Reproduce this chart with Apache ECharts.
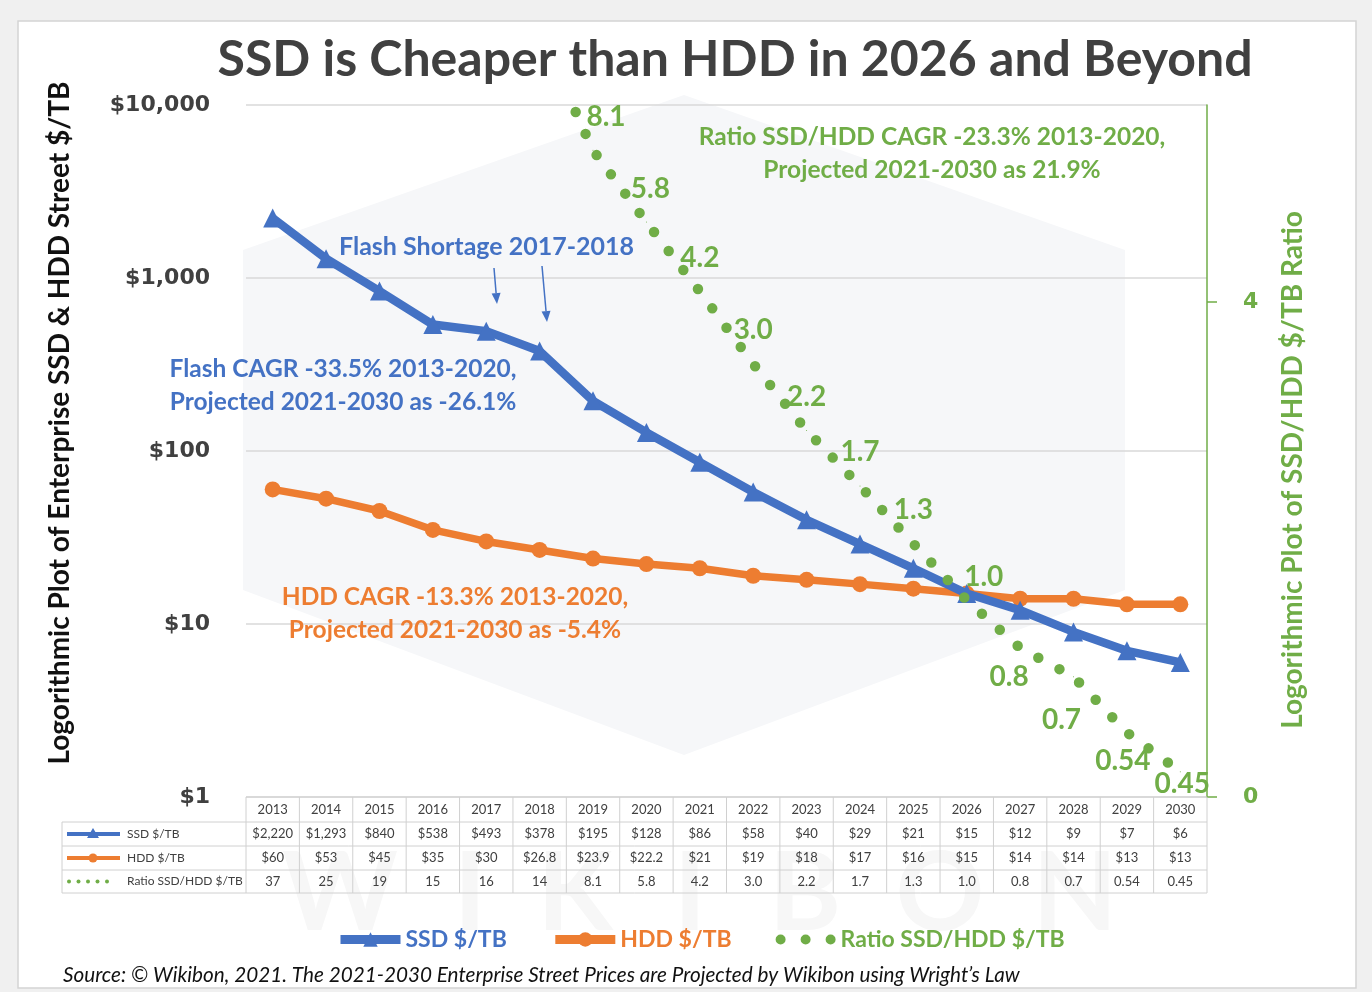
<!DOCTYPE html>
<html>
<head>
<meta charset="utf-8">
<script src="https://cdn.jsdelivr.net/npm/echarts@6/dist/echarts.min.js"></script>
<style>
  html, body { margin: 0; padding: 0; background: #f0f0f0; }
  #chart { width: 1372px; height: 992px; }
</style>
</head>
<body>
<div id="chart"></div>
<script>
// Enterprise street prices, $/TB (2021-2030 projected)
const years = ['2013','2014','2015','2016','2017','2018','2019','2020','2021','2022','2023','2024','2025','2026','2027','2028','2029','2030'];
const ssdPrice = [2220, 1293, 840, 538, 493, 378, 195, 128, 86, 58, 40, 29, 21, 15, 12, 9, 7, 6];
const hddPrice = [60, 53, 45, 35, 30, 26.8, 23.9, 22.2, 21, 19, 18, 17, 16, 15, 14, 14, 13, 13];
const ratio = [37, 25, 19, 15, 16, 14, 8.1, 5.8, 4.2, 3.0, 2.2, 1.7, 1.3, 1.0, 0.8, 0.7, 0.54, 0.45];

// Axis tick values
const priceTicks = [1, 10, 100, 1000, 10000];
const ratioTicks = [0.4, 4];

// Series names
const SSD = 'SSD $/TB', HDD = 'HDD $/TB', RATIO = 'Ratio SSD/HDD $/TB';

const BLUE = '#4472C4', ORANGE = '#ED7D31', GREEN = '#70AD47', INK = '#404040';
const FONT = 'Lato, "Open Sans", sans-serif';

// nudges for ratio data labels (pixels)
const ratioLabelNudge = { '2019': [13, 0], '2020': [4, 0], '2026': [17, 10], '2027': [-11, 0], '2028': [-12, 15], '2029': [-4, 0], '2030': [2, -16] };

function fmtRatio(v) {
  if (v >= 10) return String(v);
  const s = String(v);
  return s.indexOf('.') < 0 ? v.toFixed(1) : s;
}
function fmtPrice(v) { return '$' + v.toLocaleString('en-US'); }

const chart = echarts.init(document.getElementById('chart'), null, { renderer: 'canvas' });

const ratioData = ratio.map((v, i) => {
  const below = v < 1;
  return {
    value: v,
    label: {
      show: v <= 10,
      position: below ? 'bottom' : 'top',
      distance: below ? 14 : 19,
      offset: ratioLabelNudge[years[i]] || [0, 0]
    }
  };
});

const dotsIcon = 'path://M0,5a5,5 0 1,0 10,0a5,5 0 1,0 -10,0M25,5a5,5 0 1,0 10,0a5,5 0 1,0 -10,0M50,5a5,5 0 1,0 10,0a5,5 0 1,0 -10,0';

const option = {
  backgroundColor: '#f0f0f0',
  animation: false,
  grid: { left: 246, right: 165, top: 105, bottom: 195, containLabel: false },
  legend: {
    left: 331, top: 923,
    itemWidth: 60, itemHeight: 18, itemGap: 44,
    lineStyle: { width: 9 },
    textStyle: { fontFamily: FONT, fontWeight: 'bold', fontSize: 23 },
    data: [
      { name: SSD, textStyle: { color: BLUE } },
      { name: HDD, textStyle: { color: ORANGE } },
      { name: RATIO, icon: dotsIcon, textStyle: { color: GREEN } }
    ]
  },
  xAxis: {
    type: 'category', data: years, boundaryGap: true,
    axisLine: { show: false }, axisTick: { show: false }, axisLabel: { show: false }
  },
  yAxis: [
    {
      type: 'log', logBase: 10, min: 1, max: 10000,
      axisLine: { show: false }, axisTick: { show: false },
      splitLine: { show: true, lineStyle: { color: '#d9d9d9', width: 1.5 } },
      axisLabel: {
        customValues: priceTicks,
        formatter: fmtPrice, margin: 36,
        fontFamily: '"DejaVu Sans", sans-serif', fontWeight: 'bold', fontSize: 22, color: INK
      }
    },
    {
      type: 'log', logBase: 10, min: 0.4, max: 10, position: 'right',
      axisLine: { show: true, lineStyle: { color: GREEN, width: 1.5 } },
      axisTick: { show: true, customValues: ratioTicks, length: 10, lineStyle: { color: GREEN, width: 1.5 } },
      splitLine: { show: false },
      axisLabel: {
        customValues: ratioTicks,
        formatter: v => Number(v).toFixed(0), margin: 36,
        fontFamily: '"DejaVu Sans", sans-serif', fontWeight: 'bold', fontSize: 22, color: GREEN
      }
    }
  ],
  series: [
    {
      name: HDD, type: 'line', yAxisIndex: 0, data: hddPrice,
      color: ORANGE, symbol: 'circle', symbolSize: 16, z: 3,
      lineStyle: { color: ORANGE, width: 7.5 },
      emphasis: { disabled: true }
    },
    {
      name: SSD, type: 'line', yAxisIndex: 0, data: ssdPrice,
      color: BLUE, symbol: 'triangle', symbolSize: 19, z: 4,
      lineStyle: { color: BLUE, width: 8.5 },
      emphasis: { disabled: true }
    },
    {
      name: RATIO, type: 'line', yAxisIndex: 1, data: ratioData,
      color: GREEN, symbol: 'circle', symbolSize: 1, z: 5,
      lineStyle: { color: GREEN, width: 10.5, type: [0, 24], cap: 'round' },
      label: {
        color: GREEN, fontFamily: FONT, fontWeight: 'bold', fontSize: 28,
        formatter: p => fmtRatio(p.value)
      },
      emphasis: { disabled: true }
    }
  ]
};

chart.setOption(option);

// ---- Decorations, annotations and the data table underneath the plot ----
function txt(id, text, x, y, opts) {
  return Object.assign({
    type: 'text', id: id, x: x, y: y, z: 10,
    style: Object.assign({
      text: text, fill: INK, fontFamily: FONT, fontWeight: 'bold', fontSize: 22,
      textAlign: 'center', textVerticalAlign: 'middle'
    }, (opts && opts.style) || {})
  }, (opts && opts.el) || {});
}

function arrow(id, x1, y1, x2, y2) {
  const ang = Math.atan2(y2 - y1, x2 - x1);
  const L = 11, W = 4.5;
  const bx = x2 - L * Math.cos(ang), by = y2 - L * Math.sin(ang);
  const px = -Math.sin(ang) * W, py = Math.cos(ang) * W;
  return [
    { type: 'line', id: id + 'l', z: 10, shape: { x1: x1, y1: y1, x2: bx, y2: by }, style: { stroke: BLUE, lineWidth: 1.5 } },
    { type: 'polygon', id: id + 'h', z: 10, shape: { points: [[x2, y2], [bx + px, by + py], [bx - px, by - py]] }, style: { fill: BLUE } }
  ];
}

function buildGraphics() {
  const g = [];
  // page panel
  g.push({ type: 'rect', id: 'panel', z: -10, shape: { x: 18, y: 21, width: 1338, height: 967 },
           style: { fill: '#ffffff', stroke: '#d4d4d4', lineWidth: 1.5 } });
  // faint hexagon logo behind the plot
  g.push({ type: 'polygon', id: 'hex', z: -9,
           shape: { points: [[684, 95], [1125, 250], [1125, 590], [684, 755], [243, 590], [243, 250]] },
           style: { fill: '#f6f7f9' } });
  const wm = ['W', 'I', 'K', 'I', 'B', 'O', 'N'];
  const wmX = [340, 470, 575, 690, 805, 940, 1075];
  wm.forEach((c, i) => g.push({ type: 'text', id: 'wm' + i, z: -8, x: wmX[i], y: 895,
    style: { text: c, fill: '#f7f7f7', fontFamily: FONT, fontWeight: 'bold', fontSize: 110, textAlign: 'center', textVerticalAlign: 'middle' } }));

  // title
  g.push(txt('title', 'SSD is Cheaper than HDD in 2026 and Beyond', 735, 60, { style: { fontSize: 50, fill: INK } }));

  // axis names
  g.push(txt('yname', 'Logorithmic Plot of Enterprise SSD & HDD Street $/TB', 60, 423,
             { style: { fontSize: 28, fill: '#111111' }, el: { rotation: Math.PI / 2 } }));
  g.push(txt('y2name', 'Logorithmic Plot of SSD/HDD $/TB Ratio', 1293, 470,
             { style: { fontSize: 28, fill: GREEN }, el: { rotation: Math.PI / 2 } }));

  // annotations
  g.push(txt('shortage', 'Flash Shortage 2017-2018', 339, 247, { style: { fill: BLUE, textAlign: 'left', fontSize: 25 } }));
  g.push.apply(g, arrow('a1', 494, 268, 497, 304));
  g.push.apply(g, arrow('a2', 542, 266, 547, 322));
  g.push(txt('flash', 'Flash CAGR -33.5% 2013-2020,\nProjected 2021-2030 as -26.1%', 343, 386,
             { style: { fill: BLUE, fontSize: 24.5, lineHeight: 33 } }));
  g.push(txt('hdd', 'HDD CAGR -13.3% 2013-2020,\nProjected 2021-2030 as -5.4%', 455, 614,
             { style: { fill: ORANGE, fontSize: 24.5, lineHeight: 33 } }));
  g.push(txt('rat', 'Ratio SSD/HDD CAGR -23.3% 2013-2020,\nProjected 2021-2030 as 21.9%', 932, 154,
             { style: { fill: GREEN, fontSize: 24.5, lineHeight: 33 } }));

  // data table
  const xs = years.map(y => chart.convertToPixel({ xAxisIndex: 0 }, y));
  const step = xs[1] - xs[0];
  const x0 = xs[0] - step / 2, x1 = xs[xs.length - 1] + step / 2;
  const rows = [797, 822, 846, 870, 893];
  const keyLeft = 62;
  const grid = '#d0d0d0';
  const hl = (id, xa, xb, y) => ({ type: 'line', id: id, z: 5, shape: { x1: xa, y1: y, x2: xb, y2: y }, style: { stroke: grid, lineWidth: 1 } });
  const vl = (id, x, ya, yb) => ({ type: 'line', id: id, z: 5, shape: { x1: x, y1: ya, x2: x, y2: yb }, style: { stroke: grid, lineWidth: 1 } });
  g.push(hl('r0', x0, x1, rows[0]));
  for (let r = 1; r < rows.length; r++) g.push(hl('r' + r, keyLeft, x1, rows[r]));
  g.push(vl('kl', keyLeft, rows[1], rows[4]));
  for (let i = 0; i <= years.length; i++) g.push(vl('c' + i, x0 + i * step, rows[0], rows[4]));

  const cell = (id, text, x, y) => ({ type: 'text', id: id, z: 6, x: x, y: y,
    style: { text: text, fill: INK, fontFamily: FONT, fontSize: 13, textAlign: 'center', textVerticalAlign: 'middle' } });
  const mid = r => (rows[r] + rows[r + 1]) / 2;
  years.forEach((y, i) => {
    g.push(cell('ty' + i, y, xs[i], mid(0)));
    g.push(cell('ts' + i, fmtPrice(ssdPrice[i]), xs[i], mid(1)));
    g.push(cell('th' + i, fmtPrice(hddPrice[i]), xs[i], mid(2)));
    g.push(cell('tr' + i, fmtRatio(ratio[i]), xs[i], mid(3)));
  });
  // row keys
  const keyText = (id, text, r) => ({ type: 'text', id: id, z: 6, x: 127, y: mid(r),
    style: { text: text, fill: INK, fontFamily: FONT, fontSize: 12, textAlign: 'left', textVerticalAlign: 'middle' } });
  g.push({ type: 'line', id: 'k1l', z: 6, shape: { x1: 67, y1: mid(1), x2: 120, y2: mid(1) }, style: { stroke: BLUE, lineWidth: 4 } });
  g.push({ type: 'polygon', id: 'k1s', z: 6, shape: { points: [[93, mid(1) - 6], [99, mid(1) + 4], [87, mid(1) + 4]] }, style: { fill: BLUE } });
  g.push(keyText('k1t', SSD, 1));
  g.push({ type: 'line', id: 'k2l', z: 6, shape: { x1: 67, y1: mid(2), x2: 120, y2: mid(2) }, style: { stroke: ORANGE, lineWidth: 4 } });
  g.push({ type: 'circle', id: 'k2s', z: 6, shape: { cx: 93, cy: mid(2), r: 4.5 }, style: { fill: ORANGE } });
  g.push(keyText('k2t', HDD, 2));
  for (let k = 0; k < 5; k++) g.push({ type: 'circle', id: 'k3d' + k, z: 6, shape: { cx: 69 + k * 9.5, cy: mid(3), r: 2 }, style: { fill: GREEN } });
  g.push(keyText('k3t', RATIO, 3));

  // source line
  g.push(txt('src', 'Source: \u00a9 Wikibon, 2021. The 2021-2030 Enterprise Street Prices are Projected by Wikibon using Wright\u2019s Law', 63, 975,
             { style: { fill: '#111111', textAlign: 'left', fontSize: 20.7, fontWeight: 'normal', fontStyle: 'italic' } }));
  return g;
}

chart.setOption({ graphic: buildGraphics() });
</script>
</body>
</html>
